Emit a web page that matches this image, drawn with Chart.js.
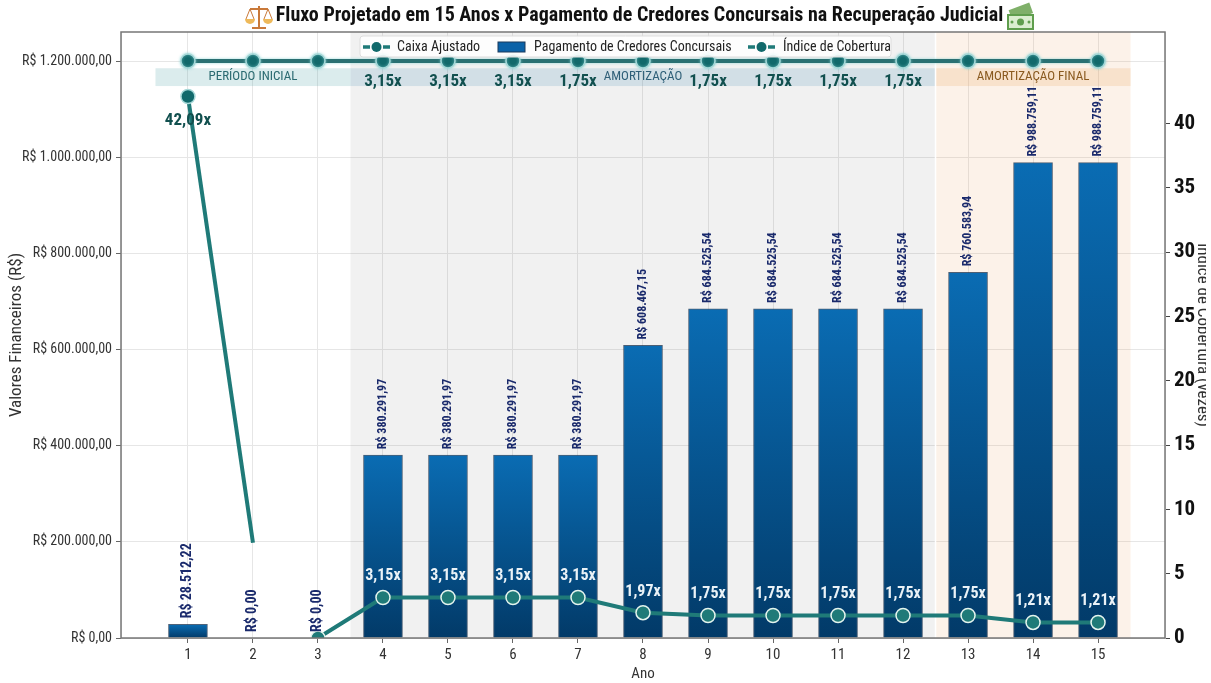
<!DOCTYPE html>
<html lang="pt-BR">
<head>
<meta charset="utf-8">
<title>Fluxo Projetado em 15 Anos</title>
<script src="https://cdn.jsdelivr.net/npm/chart.js@4"></script>
<style>
  html, body { margin: 0; padding: 0; background: #fff; overflow: hidden; }
  canvas { display: block; }
</style>
</head>
<body>
<canvas id="grafico" width="1206" height="683"></canvas>
<script>
// Dados do gráfico
const anos = [1, 2, 3, 4, 5, 6, 7, 8, 9, 10, 11, 12, 13, 14, 15];
const pagamentos = [28512.22, 0, 0, 380291.97, 380291.97, 380291.97, 380291.97, 608467.15,
  684525.54, 684525.54, 684525.54, 684525.54, 760583.94, 988759.11, 988759.11];
const caixaAjustado = [1200000, 1200000, 1200000, 1200000, 1200000, 1200000, 1200000, 1200000,
  1200000, 1200000, 1200000, 1200000, 1200000, 1200000, 1200000];
const indiceCobertura = [42.09, 7.4, 0, 3.15, 3.15, 3.15, 3.15, 1.97, 1.75, 1.75, 1.75, 1.75, 1.75, 1.21, 1.21];
const rotulosIndice = ['', '', '', '3,15x', '3,15x', '3,15x', '3,15x', '1,97x', '1,75x', '1,75x', '1,75x', '1,75x', '1,75x', '1,21x', '1,21x'];
const rotulosCaixa = ['', '', '', '3,15x', '3,15x', '3,15x', '1,75x', '', '1,75x', '1,75x', '1,75x', '1,75x', '', '', ''];
const ticksValores = [0, 200000, 400000, 600000, 800000, 1000000, 1200000];
const ticksIndice = [0, 5, 10, 15, 20, 25, 30, 35, 40];

// Faixas de período: início, fim, texto e posição do texto no eixo x
const faixasInicio = [0.5, 3.5, 12.5];
const faixasFim = [3.5, 12.5, 15.5];
const faixasTexto = ['PERÍODO INICIAL', 'AMORTIZAÇÃO', 'AMORTIZAÇÃO FINAL'];
const faixasCentro = [2, 8, 14];

const FONTE = '"Roboto Condensed", "Liberation Sans Narrow", Roboto, sans-serif';
const TEAL = '#1f7a78';

const moeda = v => 'R$ ' + v.toLocaleString('pt-BR', { minimumFractionDigits: 2, maximumFractionDigits: 2 });

// Gradiente vertical de cada barra
function gradienteBarra(ctx) {
  const chart = ctx.chart;
  if (!chart.chartArea || ctx.type !== 'data') return '#0a6cb3';
  const escala = chart.scales.y;
  const topo = escala.getPixelForValue(pagamentos[ctx.dataIndex]);
  const base = escala.getPixelForValue(0);
  const g = chart.ctx.createLinearGradient(0, topo, 0, Math.max(base, topo + 1));
  g.addColorStop(0, '#0a6cb3');
  g.addColorStop(1, '#023a68');
  return g;
}

// Faixas de fundo, desenhadas antes das barras
const pluginFaixas = {
  id: 'faixas',
  // título um pouco à esquerda do centro da área
  afterLayout(chart) {
    chart.titleBlock.left -= 7;
  },
  beforeDatasetsDraw(chart) {
    const { ctx, chartArea: a, scales: { x, y } } = chart;
    const fundos = ['rgba(0,0,0,0)', 'rgba(120,120,120,0.1)', 'rgba(235,170,110,0.15)'];
    const tiras = ['rgba(90,170,175,0.22)', 'rgba(60,135,175,0.17)', 'rgba(235,170,110,0.24)'];
    const cores = ['#2a6a70', '#2f5f78', '#8a5a20'];
    const yTopo = y.getPixelForValue(1185000);
    const yBase = y.getPixelForValue(1148000);
    ctx.save();
    faixasInicio.forEach((ini, i) => {
      const x0 = x.getPixelForValue(ini);
      const x1 = x.getPixelForValue(faixasFim[i]);
      ctx.fillStyle = fundos[i];
      ctx.fillRect(x0, a.top, x1 - x0, a.bottom - a.top);
      ctx.fillStyle = tiras[i];
      ctx.fillRect(x0, yTopo, x1 - x0, yBase - yTopo);
      ctx.fillStyle = cores[i];
      ctx.font = '13px ' + FONTE;
      ctx.textAlign = 'center';
      ctx.textBaseline = 'middle';
      ctx.fillText(faixasTexto[i], x.getPixelForValue(faixasCentro[i]), (yTopo + yBase) / 2);
    });
    const xBranco = x.getPixelForValue(12.5);
    ctx.fillStyle = '#fff';
    ctx.fillRect(xBranco - 0.75, a.top, 1.5, a.bottom - a.top);
    ctx.restore();
  }
};

// Brilho em volta da linha de caixa
const pluginBrilho = {
  id: 'brilho',
  beforeDatasetDraw(chart, args) {
    if (args.index !== 0) return;
    chart.ctx.save();
    chart.ctx.shadowColor = 'rgba(130,210,210,0.8)';
    chart.ctx.shadowBlur = 3;
  },
  afterDatasetDraw(chart, args) {
    if (args.index === 0) chart.ctx.restore();
  }
};

// Rótulos de valores, moldura e legenda
const pluginRotulos = {
  id: 'rotulos',
  afterDatasetsDraw(chart) {
    const { ctx, chartArea: a, scales: { x, y, y1 } } = chart;
    ctx.save();

    // Valores das barras, na vertical
    pagamentos.forEach((v, i) => {
      const px = x.getPixelForValue(anos[i]);
      const py = y.getPixelForValue(v);
      ctx.save();
      ctx.translate(px, py - 6);
      ctx.rotate(-Math.PI / 2);
      ctx.fillStyle = '#1a2a6c';
      ctx.font = 'bold ' + (i < 3 ? 14 : 12) + 'px ' + FONTE;
      ctx.textAlign = 'left';
      ctx.textBaseline = 'middle';
      ctx.fillText(moeda(v), 0, 0);
      ctx.restore();
    });

    // Índice sobre os marcadores inferiores
    ctx.textAlign = 'center';
    ctx.textBaseline = 'middle';
    ctx.font = 'bold 16px ' + FONTE;
    ctx.fillStyle = '#eaf2f7';
    rotulosIndice.forEach((t, i) => {
      if (!t) return;
      ctx.fillText(t, x.getPixelForValue(anos[i]), y1.getPixelForValue(indiceCobertura[i]) - 21);
    });

    // Índice na faixa superior
    ctx.fillStyle = '#12504f';
    ctx.font = 'bold 17px ' + FONTE;
    rotulosCaixa.forEach((t, i) => {
      if (t) ctx.fillText(t, x.getPixelForValue(anos[i]), y.getPixelForValue(1157000));
    });
    ctx.fillText('42,09x', x.getPixelForValue(1), y1.getPixelForValue(indiceCobertura[0]) + 24);

    // Moldura da área do gráfico
    ctx.strokeStyle = '#777';
    ctx.lineWidth = 1.5;
    ctx.strokeRect(a.left, a.top, a.right - a.left, a.bottom - a.top);

    // Legenda sobre as linhas
    ctx.fillStyle = 'rgba(255,255,255,0.88)';
    ctx.strokeStyle = '#ddd';
    ctx.lineWidth = 1;
    ctx.beginPath();
    ctx.roundRect(360, 36, 531, 21, 3);
    ctx.fill();
    ctx.stroke();
    ctx.font = '14px ' + FONTE;
    ctx.textAlign = 'left';
    ctx.fillStyle = '#222';
    const itens = chart.data.datasets;
    const amostraLinha = xIni => {
      ctx.strokeStyle = TEAL;
      ctx.lineWidth = 3.5;
      ctx.setLineDash([7, 3]);
      ctx.beginPath();
      ctx.moveTo(xIni, 47);
      ctx.lineTo(xIni + 27, 47);
      ctx.stroke();
      ctx.setLineDash([]);
      ctx.fillStyle = '#11696b';
      ctx.beginPath();
      ctx.arc(xIni + 13.5, 47, 5, 0, Math.PI * 2);
      ctx.fill();
      ctx.fillStyle = '#222';
    };
    amostraLinha(363);
    ctx.fillText(itens[0].label, 397, 47);
    ctx.fillStyle = '#0a62a8';
    ctx.fillRect(498, 42, 27, 10);
    ctx.strokeStyle = '#1a3a5c';
    ctx.lineWidth = 1;
    ctx.strokeRect(498, 42, 27, 10);
    ctx.fillStyle = '#222';
    ctx.fillText(itens[1].label, 534, 47);
    amostraLinha(748);
    ctx.fillText(itens[2].label, 783, 47);

    desenharIcones(ctx);
    ctx.restore();
  }
};

// Balança e cédula ao lado do título
function desenharIcones(ctx) {
  ctx.save();
  ctx.strokeStyle = '#c9793a';
  ctx.lineWidth = 2;
  ctx.beginPath();
  ctx.moveTo(259, 6); ctx.lineTo(259, 28);
  ctx.moveTo(252, 28); ctx.lineTo(266, 28);
  ctx.moveTo(250, 9); ctx.lineTo(268, 9);
  ctx.stroke();
  ctx.lineWidth = 1;
  ctx.beginPath();
  ctx.moveTo(250, 9); ctx.lineTo(246, 19); ctx.moveTo(250, 9); ctx.lineTo(254, 19);
  ctx.moveTo(268, 9); ctx.lineTo(264, 19); ctx.moveTo(268, 9); ctx.lineTo(272, 19);
  ctx.stroke();
  ctx.fillStyle = '#eeb95a';
  ctx.beginPath(); ctx.arc(250, 19, 5, 0, Math.PI); ctx.fill();
  ctx.beginPath(); ctx.arc(268, 19, 5, 0, Math.PI); ctx.fill();

  ctx.fillStyle = '#7fb069';
  ctx.save();
  ctx.translate(1021, 12);
  ctx.rotate(-0.35);
  ctx.fillRect(-11, -6, 22, 11);
  ctx.restore();
  ctx.fillStyle = '#dbeed0';
  ctx.fillRect(1008, 15, 25, 14);
  ctx.strokeStyle = '#5f9e4d';
  ctx.lineWidth = 2;
  ctx.strokeRect(1008, 15, 25, 14);
  ctx.fillStyle = '#5f9e4d';
  ctx.beginPath(); ctx.arc(1020.5, 22, 3.5, 0, Math.PI * 2); ctx.fill();
  ctx.beginPath(); ctx.arc(1012, 22, 1.5, 0, Math.PI * 2); ctx.fill();
  ctx.beginPath(); ctx.arc(1029, 22, 1.5, 0, Math.PI * 2); ctx.fill();
  ctx.restore();
}

new Chart(document.getElementById('grafico'), {
  data: {
    labels: anos,
    datasets: [
      {
        type: 'line',
        label: 'Caixa Ajustado',
        data: caixaAjustado,
        yAxisID: 'y',
        order: 1,
        borderColor: '#2a7072',
        borderWidth: 4,
        pointRadius: 7,
        pointBackgroundColor: '#11696b',
        pointBorderColor: '#a6d8d8',
        pointBorderWidth: 1.5
      },
      {
        type: 'bar',
        label: 'Pagamento de Credores Concursais',
        data: pagamentos,
        yAxisID: 'y',
        order: 2,
        barThickness: 39,
        backgroundColor: gradienteBarra,
        borderColor: 'rgba(20,45,75,0.75)',
        borderWidth: 1
      },
      {
        type: 'line',
        label: 'Índice de Cobertura',
        data: indiceCobertura,
        yAxisID: 'y1',
        order: 0,
        borderColor: TEAL,
        borderWidth: 4,
        // sem traço entre os anos 2 e 3
        segment: { borderColor: c => c.p0DataIndex === 1 ? 'rgba(0,0,0,0)' : undefined },
        pointRadius: c => c.dataIndex === 1 ? 0 : 7,
        pointBackgroundColor: c => c.dataIndex === 0 ? '#11696b' : TEAL,
        pointBorderColor: c => c.dataIndex === 0 ? '#a6d8d8' : '#e4f4ee',
        pointBorderWidth: 1.5
      }
    ]
  },
  options: {
    responsive: false,
    animation: false,
    layout: { padding: { left: 0, right: -6, top: 0, bottom: 0 } },
    plugins: {
      legend: { display: false },
      tooltip: { enabled: false },
      title: {
        display: true,
        fullSize: false,
        text: 'Fluxo Projetado em 15 Anos x Pagamento de Credores Concursais na Recuperação Judicial',
        color: '#111',
        font: { family: FONTE, size: 20, weight: 'bold', lineHeight: 1.2 },
        padding: { top: 4, bottom: 4 }
      }
    },
    scales: {
      x: {
        type: 'linear',
        offset: false,
        min: -0.03,
        max: 16.03,
        afterBuildTicks: eixo => { eixo.ticks = anos.map(v => ({ value: v })); },
        afterFit: eixo => { eixo.height = 45; },
        grid: { offset: false, color: '#e6e6e6', tickColor: '#666', tickLength: 5 },
        ticks: { color: '#333', font: { family: FONTE, size: 15 }, padding: 3, maxRotation: 0, autoSkip: false },
        title: { display: true, text: 'Ano', color: '#333', font: { family: FONTE, size: 15 }, padding: { top: 0, bottom: 0 } }
      },
      y: {
        position: 'left',
        min: 0,
        max: 1260400,
        afterBuildTicks: eixo => { eixo.ticks = ticksValores.map(v => ({ value: v })); },
        afterFit: eixo => { eixo.width = 121; },
        grid: { color: '#e6e6e6', tickColor: '#666', tickLength: 5 },
        ticks: { color: '#333', font: { family: FONTE, size: 14 }, padding: 4, callback: v => moeda(v) },
        title: { display: true, text: 'Valores Financeiros (R$)', color: '#333', font: { family: FONTE, size: 17 }, padding: { top: 7, bottom: 0 } }
      },
      y1: {
        position: 'right',
        min: 0,
        max: 47.1,
        afterBuildTicks: eixo => { eixo.ticks = ticksIndice.map(v => ({ value: v })); },
        afterFit: eixo => { eixo.width = 47; },
        grid: { drawOnChartArea: false, tickColor: '#444', tickLength: 5 },
        ticks: { color: '#111', font: { family: FONTE, size: 21, weight: 'bold' }, padding: 4 },
        title: { display: true, text: 'Índice de Cobertura (vezes)', color: '#333', font: { family: FONTE, size: 17 }, padding: { top: 0, bottom: 0 } }
      }
    }
  },
  plugins: [pluginFaixas, pluginBrilho, pluginRotulos]
});
</script>
</body>
</html>
